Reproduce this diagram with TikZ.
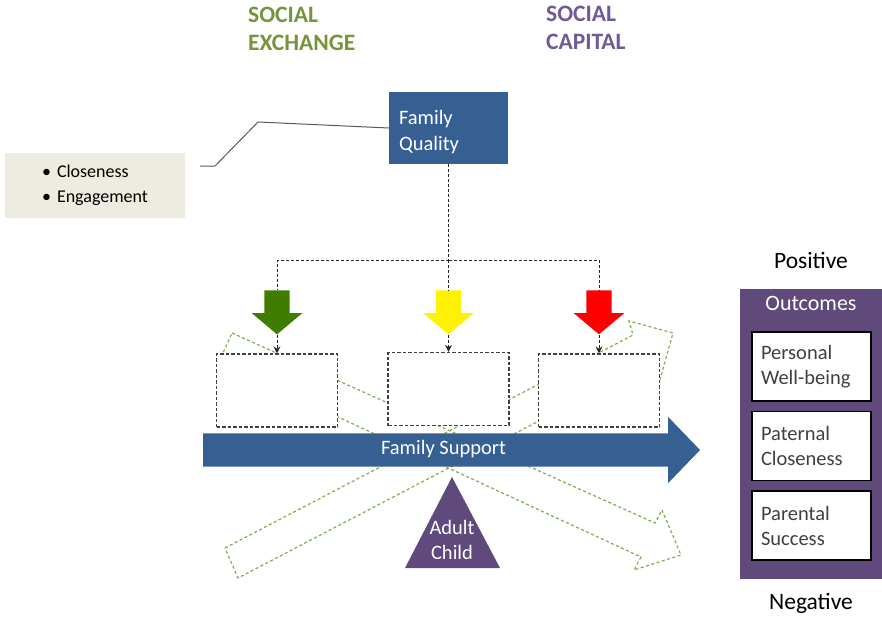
\documentclass[tikz,border=0pt]{standalone}
\usepackage{fontspec}
\setmainfont{Carlito}
\usepackage{tikz}
\usetikzlibrary{positioning,shapes.arrows,arrows.meta}
\definecolor{fsblue}{RGB}{55,96,146}
\definecolor{panelpurple}{RGB}{96,74,123}
\definecolor{exgreen}{RGB}{119,147,60}
\definecolor{cappurple}{RGB}{112,90,150}
\definecolor{notebeige}{RGB}{238,236,225}
\definecolor{seegreen}{RGB}{125,175,75}
\definecolor{goarrow}{RGB}{62,125,0}
\definecolor{itemgray}{RGB}{64,64,64}
\newcommand{\bodysize}{\fontsize{20.5}{25.5}\selectfont}
\newcommand{\itembullet}{\textbullet\hspace{6pt}}

\begin{document}
\begin{tikzpicture}[
  x=1pt, y=-1pt,
  heading/.style={font=\fontsize{23.5}{28.5}\selectfont\bfseries, align=left, inner sep=0pt, anchor=west},
  fqbox/.style={rectangle, fill=fsblue, text=white, minimum width=119pt, minimum height=72pt, text width=99pt, inner sep=0pt, align=left, font=\bodysize},
  notebox/.style={rectangle, fill=notebeige, minimum width=180pt, minimum height=65pt, inner sep=0pt, align=left, font=\fontsize{18}{25}\selectfont},
  slot/.style={rectangle, draw=gray!50!black, fill=white, line width=1.2pt, dash pattern=on 3.5pt off 2pt, minimum width=121pt, minimum height=73pt},
  drop/.style={single arrow, shape border rotate=270, minimum height=44pt, single arrow head extend=12.5pt, single arrow tip angle=100, inner sep=12.5pt},
  support/.style={single arrow, fill=fsblue, text=white, font=\bodysize, minimum height=497pt, text height=13pt, text depth=4pt, inner ysep=8pt, single arrow head extend=16.5pt, single arrow tip angle=92},
  outbox/.style={rectangle, draw=black, fill=white, line width=1.6pt, minimum width=119pt, minimum height=69pt, text width=101pt, inner sep=0pt, align=left, text=itemgray, font=\bodysize},
  fqlink/.style={draw=black!85, line width=0.9pt, dash pattern=on 3pt off 2pt},
  seesaw/.style={draw=seegreen, line width=1.2pt, dash pattern=on 3pt off 2.5pt}
]
\useasboundingbox (0,0) rectangle (882,616);

% seesaw outlines
\draw[seesaw] (225,548) -- (633,335) -- (629,321) -- (673,333) -- (659,383) -- (648,364) -- (238,578) -- cycle;
\draw[seesaw] (232,333) -- (655,523) -- (662,510) -- (681,555) -- (634,570) -- (641,557) -- (219,362) -- cycle;

\node[heading, text=exgreen] (exchange) at (248,29) {SOCIAL\\EXCHANGE};
\node[heading, text=cappurple] (capital) at (546,28) {SOCIAL\\CAPITAL};

\node[notebox] (traits) at (95,185.5) {\itembullet Closeness\\\itembullet Engagement};
\node[fqbox] (fq) at (448.5,128) {Family\\Quality\vspace{-8pt}};

\node[drop, fill=goarrow] (garrow) at (277,307) {};
\node[drop, fill=yellow] (yarrow) at (448.5,307) {};
\node[drop, fill=red] (rarrow) at (599,307) {};

\node[slot] (gslot) at (277,390.5) {};
\node[slot] (yslot) at (448.5,389) {};
\node[slot] (rslot) at (599,390.5) {};

\node[support] (fs) at (443.5,450) {Family Support};

\fill[panelpurple] (452,477) -- (405,568) -- (500,568) -- cycle;
\node[text=white, font=\bodysize, align=center] (adult) at (452,540) {Adult\\Child};

\node[rectangle, fill=panelpurple, minimum width=142pt, minimum height=290pt] (outpanel) at (811,434) {};
\node[text=white, font=\fontsize{22}{26}\selectfont] (outtitle) at (811,303) {Outcomes};
\node[outbox] (wellbeing) at (811.5,366.5) {Personal\\Well-being};
\node[outbox, below=9pt of wellbeing] (closeness) {Paternal\\Closeness};
\node[outbox, below=9pt of closeness] (success) {Parental\\Success};
\node[font=\fontsize{23.5}{28}\selectfont] (positive) at (811,260) {Positive};
\node[font=\fontsize{23.5}{28}\selectfont] (negative) at (811,603) {Negative};

\coordinate (lead) at (200,166);
\coordinate (split) at (448.5,260);
\draw[gray!70!black, line width=1pt] (lead) -- ++(15,0) -- (258,122) -- (fq.west);

\draw[fqlink] (fq.south) -- (split);
\draw[fqlink] (split) -| (garrow.tail);
\draw[fqlink] (split) -- (yarrow.tail);
\draw[fqlink] (split) -| (rarrow.tail);
\draw[fqlink, -{Stealth[length=7pt,width=7pt]}] (garrow.tip) -- (gslot.north);
\draw[fqlink, -{Stealth[length=7pt,width=7pt]}] (yarrow.tip) -- (yslot.north);
\draw[fqlink, -{Stealth[length=7pt,width=7pt]}] (rarrow.tip) -- (rslot.north);
\end{tikzpicture}
\end{document}
